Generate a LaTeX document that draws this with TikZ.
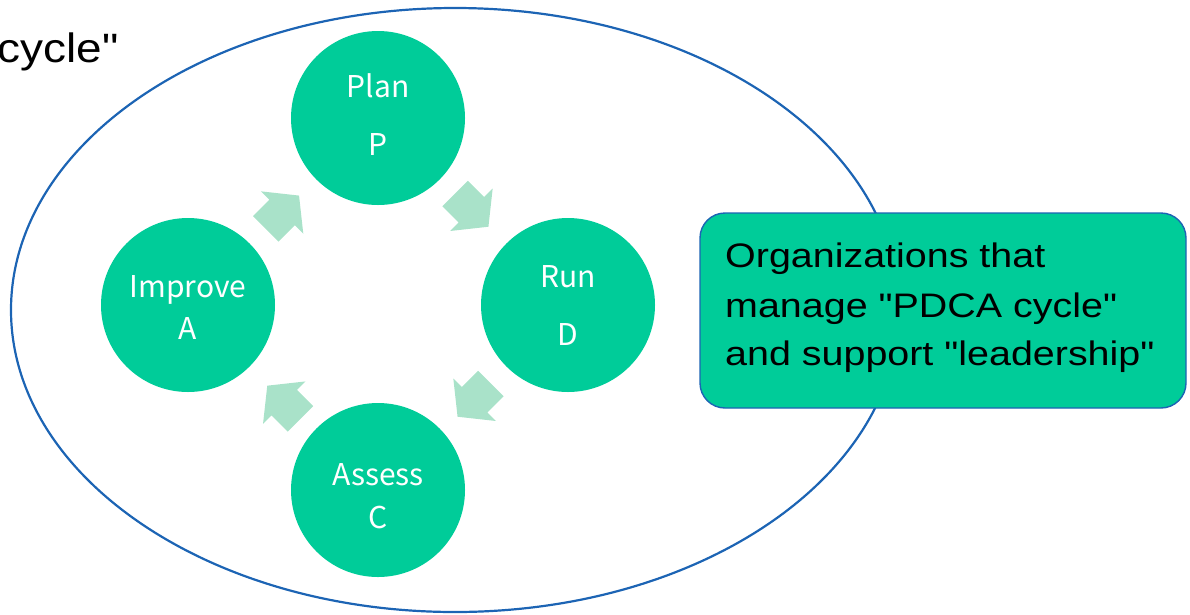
\documentclass[tikz,border=0pt]{standalone}
\usepackage{fontspec}
\setmainfont{Liberation Sans}
\newfontfamily\circfont{Noto Sans CJK JP}
\definecolor{pgreen}{RGB}{0,204,153}
\definecolor{pblue}{RGB}{28,100,180}
\definecolor{parrow}{RGB}{169,226,201}
\tikzset{
  flowarrow/.pic={\fill[parrow] (0,-18)--(23,-18)--(23,-30)--(47,0)--(23,30)--(23,18)--(0,18)--cycle;}
}
\newcommand{\dq}{\textquotedbl}
\begin{document}
\begin{tikzpicture}[x=1pt,y=-1pt,
  phase/.style={circle,fill=pgreen,minimum size=174pt,inner sep=0pt},
  ptext/.style={text=white,font=\circfont\fontsize{30}{30}\selectfont,anchor=base,inner sep=0pt},
  btext/.style={font=\fontsize{34}{34}\selectfont,anchor=base west,inner sep=0pt}]
\useasboundingbox (0,0) rectangle (1190,614);
\clip (0,0) rectangle (1190,614);
% partial title
\node[font=\fontsize{41}{41}\selectfont,anchor=base east,inner sep=0pt] (title) at (119,62) {\scalebox{1.12}[1]{cycle\dq}};
% big ellipse
\draw[pblue,line width=2.2pt] (455,310) ellipse [x radius=444, y radius=302];
% block arrows
\pic[rotate=45] at (265.8,228.8) {flowarrow};
\pic[rotate=-45] at (455.2,193.5) {flowarrow};
\pic[rotate=-135] at (490.8,383.5) {flowarrow};
\pic[rotate=135] at (300.5,418.9) {flowarrow};
% phases
\node[phase] (plan) at (378,118) {};
\node[phase] (run) at (568,305) {};
\node[phase] (improve) at (188,305) {};
\node[phase] (assess) at (378,490) {};
\node[ptext] (plan1) at (378,97) {Plan};
\node[ptext] (plan2) at (378,155) {P};
\node[ptext] (run1) at (568,287) {Run};
\node[ptext] (run2) at (568,345) {D};
\node[ptext] (imp1) at (188,297) {Improve};
\node[ptext] (imp2) at (188,339) {A};
\node[ptext] (ass1) at (378,485) {Assess};
\node[ptext] (ass2) at (378,528) {C};
% description box
\node[draw=pblue,fill=pgreen,rounded corners=25pt,line width=1.4pt,minimum width=486pt,minimum height=195pt,inner sep=0pt] (box) at (943,310.5) {};
\node[btext] (d1) at (725,267) {\scalebox{1.16}[1]{Organizations that}};
\node[btext] (d2) at (725,317) {\scalebox{1.16}[1]{manage \dq PDCA cycle\dq}};
\node[btext] (d3) at (725,365) {\scalebox{1.16}[1]{and support \dq leadership\dq}};
\end{tikzpicture}
\end{document}
